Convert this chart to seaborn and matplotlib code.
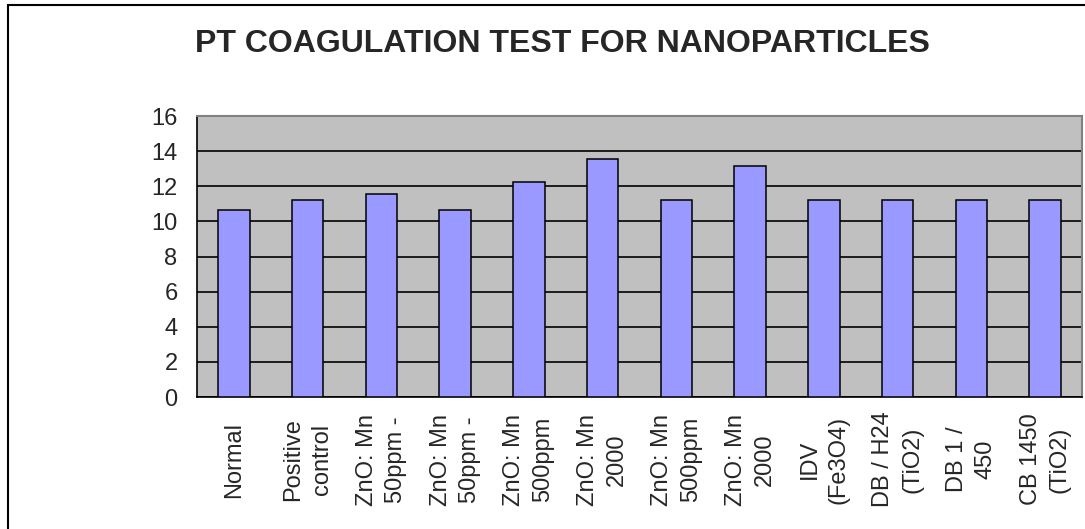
import matplotlib
matplotlib.use('Agg')
import matplotlib.pyplot as plt
import numpy as np
import pandas as pd
import seaborn as sns
from matplotlib.patches import Rectangle

# data
samples = ['Normal', 'Positive\ncontrol', 'ZnO: Mn\n50ppm -', 'ZnO: Mn\n50ppm -',
           'ZnO: Mn\n500ppm', 'ZnO: Mn\n2000', 'ZnO: Mn\n500ppm', 'ZnO: Mn\n2000',
           'IDV\n(Fe3O4)', 'DB / H24\n(TiO2)', 'DB 1 /\n450', 'CB 1450\n(TiO2)']
pt_time = [10.66, 11.23, 11.57, 10.66, 12.25, 13.55, 11.23, 13.18, 11.23, 11.23, 11.23, 11.23]
y_ticks = [0, 2, 4, 6, 8, 10, 12, 14, 16]
title = 'PT COAGULATION TEST FOR NANOPARTICLES'

sns.set_style('white')
plt.rcParams['font.family'] = ['Liberation Sans', 'DejaVu Sans']

W, H = 1085, 529
fig = plt.figure(figsize=(W / 100, H / 100), dpi=100)

# outer chart border (cut off at right and bottom)
fig.patches.append(Rectangle((8 / W, -0.1), 1.5, (524 + 53) / H, transform=fig.transFigure,
                             fill=False, edgecolor='black', linewidth=1.5))

ax = fig.add_axes([197 / W, 132 / H, 885 / W, 281 / H])
ax.set_facecolor('#C0C0C0')

df = pd.DataFrame({'idx': np.arange(len(samples)), 'value': pt_time})
sns.barplot(data=df, x='idx', y='value', color='#9999FF', saturation=1, width=0.43,
            edgecolor='black', linewidth=1.1, ax=ax, zorder=3)

ax.set_xlim(-0.5, len(samples) - 0.5)
ax.set_ylim(0, 16)
ax.set_yticks(y_ticks)
ax.yaxis.grid(True, color='black', linewidth=1.2, zorder=1)
ax.set_axisbelow(True)

ax.set_xticks(np.arange(len(samples)))
ax.set_xticklabels(samples, rotation=90, va='center', ha='center', multialignment='center',
                   linespacing=1.4)
ax.set_xticks(np.arange(len(samples) + 1) - 0.5, minor=True)
ax.tick_params(axis='x', which='major', length=0, pad=45, labelsize=17)
ax.tick_params(axis='x', which='minor', length=6, width=1, color='black', direction='out')
ax.tick_params(axis='y', length=6, width=1, color='black', direction='out', labelsize=17, pad=8)
ax.set_xlabel('')
ax.set_ylabel('')

for s in ['left', 'bottom']:
    ax.spines[s].set_color('black')
    ax.spines[s].set_linewidth(1.2)
for s in ['top', 'right']:
    ax.spines[s].set_color('#808080')
    ax.spines[s].set_linewidth(1.5)
    ax.spines[s].set_visible(True)

fig.text(562 / W, (529 - 44) / H, title, ha='center', va='center', fontsize=23, fontweight='bold')

plt.savefig('out.png', dpi=100)
plt.close()
